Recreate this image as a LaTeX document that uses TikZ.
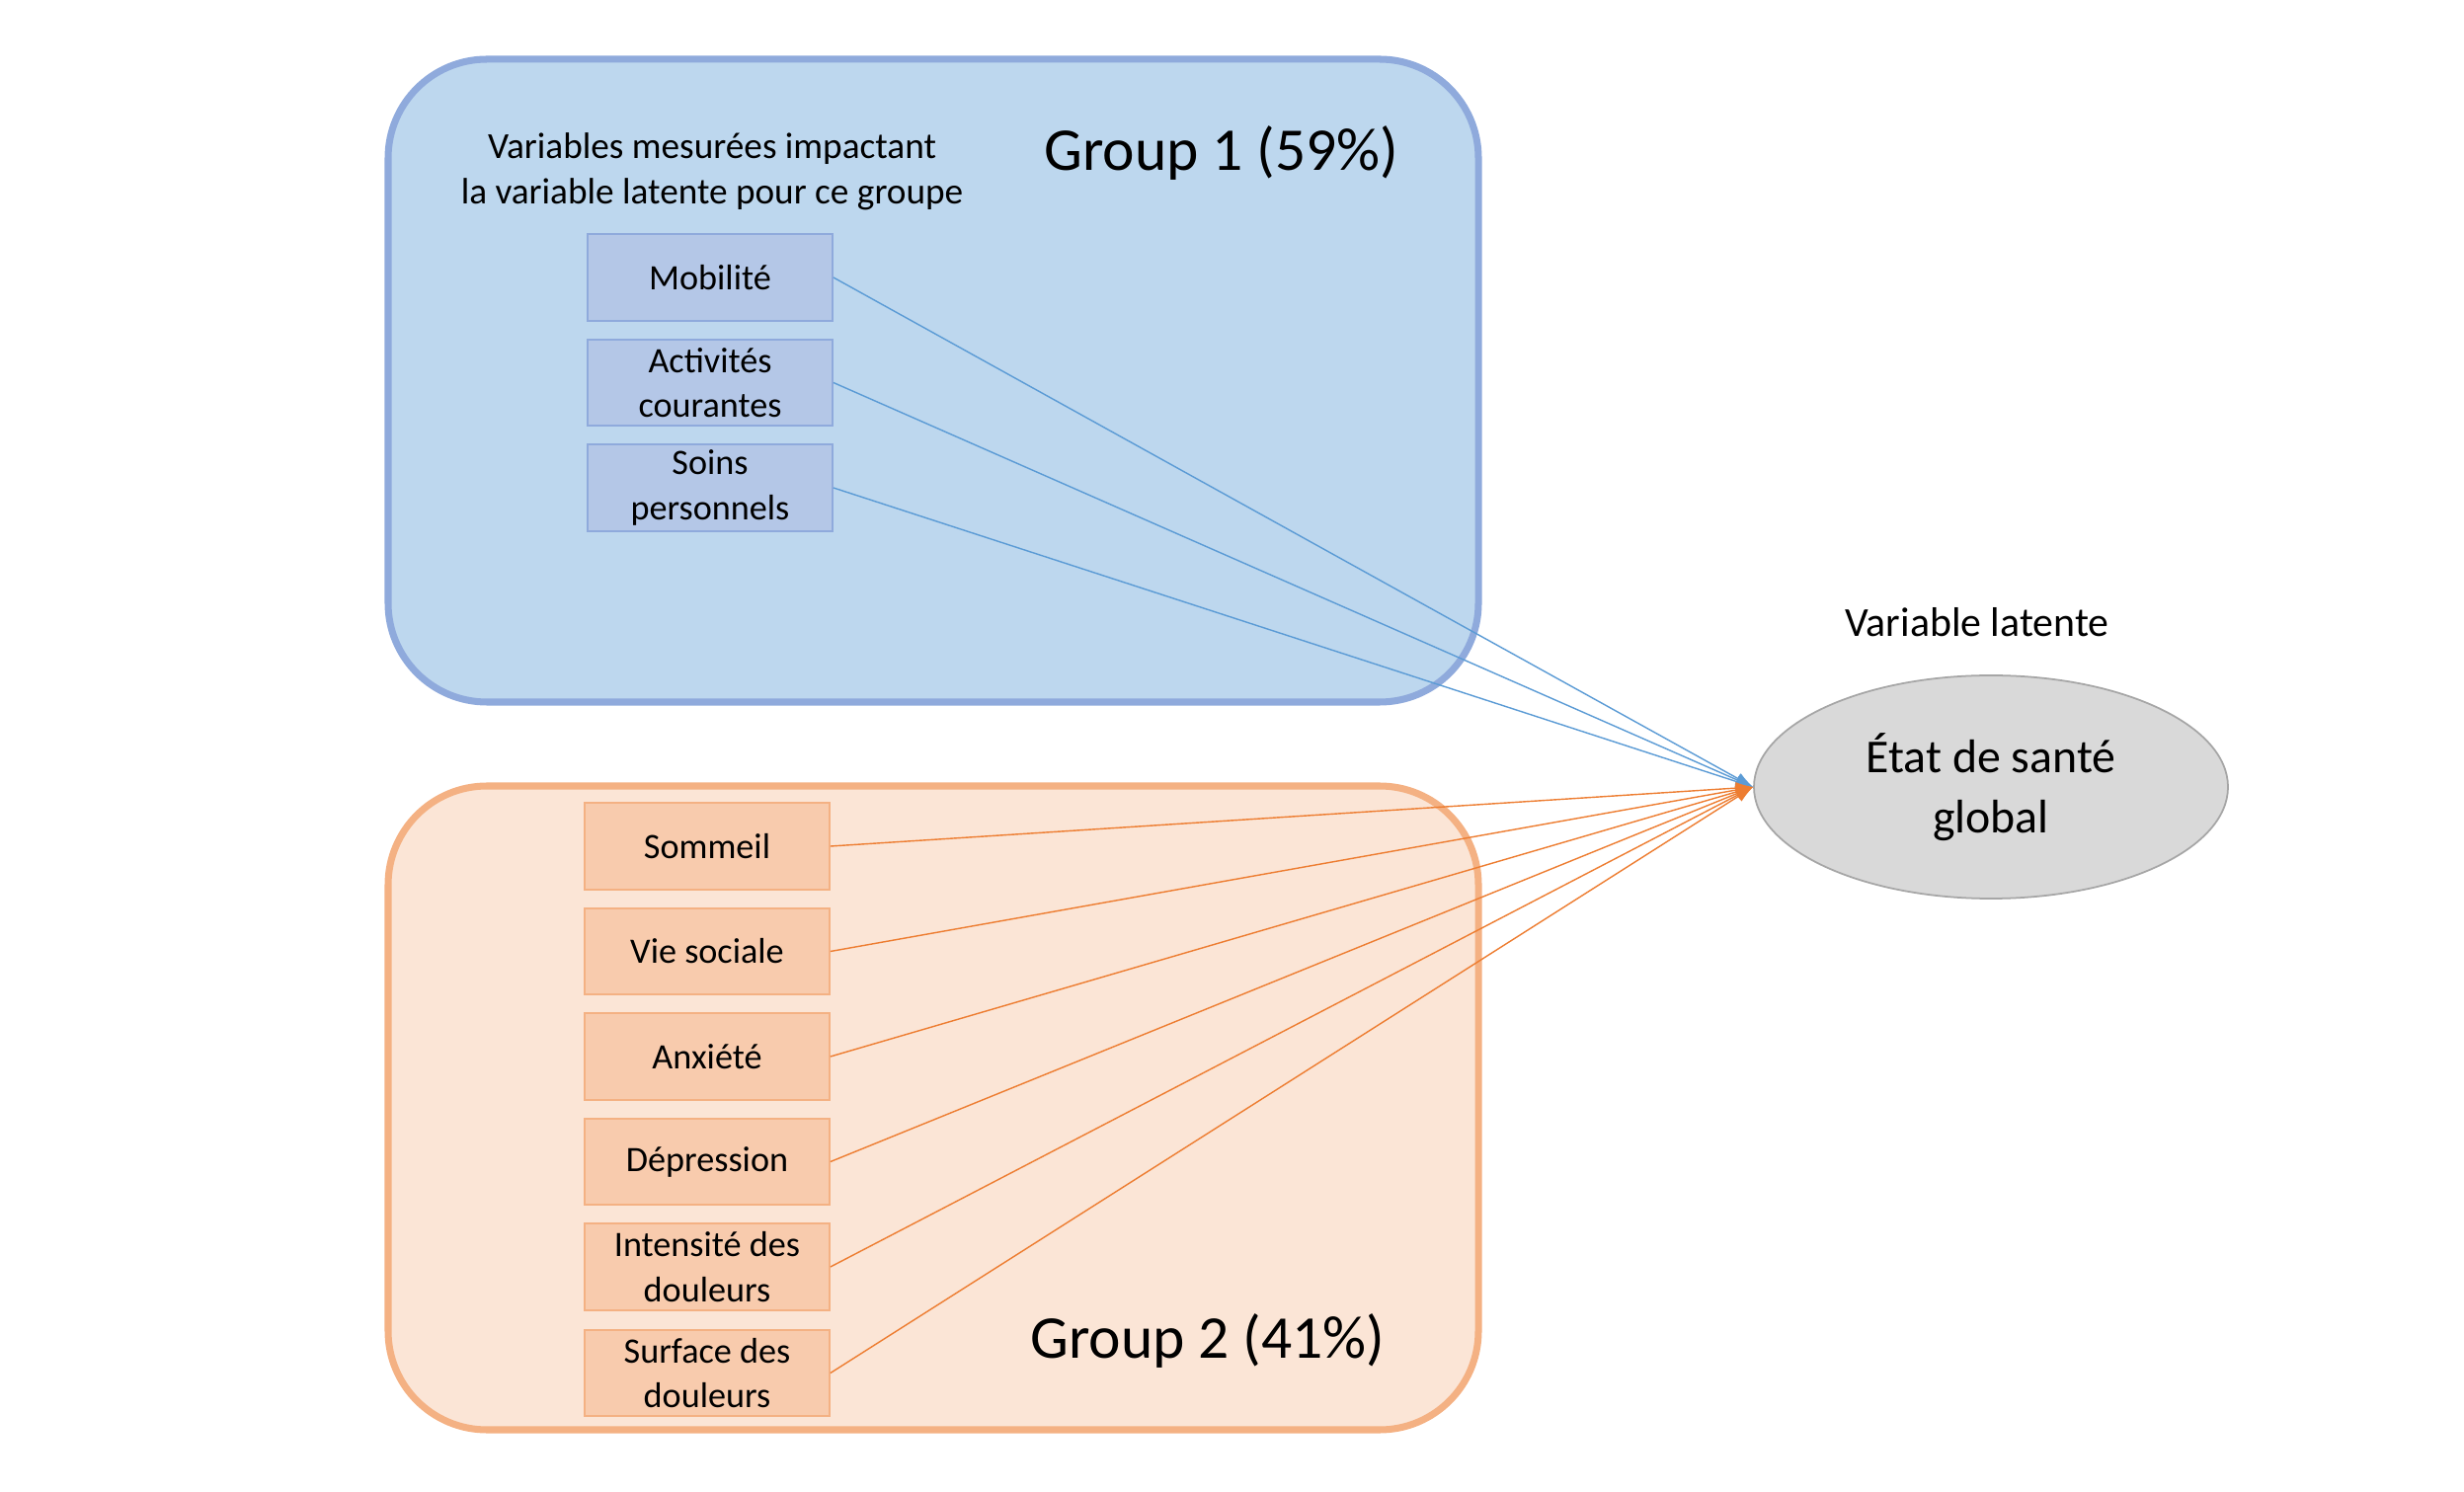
\documentclass[tikz,border=0pt]{standalone}
\usepackage{fontspec}
\setmainfont{Carlito}
\usetikzlibrary{arrows.meta,shapes.geometric}
\definecolor{gOneFill}{HTML}{BDD7EE}
\definecolor{gOneLine}{HTML}{8FAADC}
\definecolor{gOneBox}{HTML}{B4C7E7}
\definecolor{gTwoFill}{HTML}{FBE5D6}
\definecolor{gTwoLine}{HTML}{F4B183}
\definecolor{gTwoBox}{HTML}{F8CBAD}
\definecolor{blueArrow}{HTML}{5B9BD5}
\definecolor{orangeArrow}{HTML}{ED7D31}
\definecolor{ellFill}{HTML}{D9D9D9}
\definecolor{ellLine}{HTML}{A6A6A6}
\tikzset{
  groupbox/.style={line width=2pt, rounded corners=1cm},
  varbox/.style={rectangle, minimum width=2.48cm, minimum height=0.875cm, inner sep=0pt,
    font=\fontsize{10.3pt}{12.9pt}\selectfont, align=center, line width=0.5pt},
  bluebox/.style={varbox, fill=gOneBox, draw=gOneLine},
  orangebox/.style={varbox, fill=gTwoBox, draw=gTwoLine},
  bluearrow/.style={draw=blueArrow, line width=0.4pt, -{Latex[length=5pt,width=3.5pt]}},
  orangearrow/.style={draw=orangeArrow, line width=0.4pt, -{Latex[length=5pt,width=3.5pt]}},
  grouplabel/.style={font=\fontsize{17.5pt}{20pt}\selectfont, inner sep=0pt},
  smalltext/.style={font=\fontsize{10.6pt}{13.1pt}\selectfont, align=center, inner sep=0pt}
}
\begin{document}
\begin{tikzpicture}
\useasboundingbox (0,0) rectangle (24.95,-15.11);
% group frames
\draw[groupbox, fill=gOneFill, draw=gOneLine] (3.93,-0.60) rectangle (14.97,-7.11);
\draw[groupbox, fill=gTwoFill, draw=gTwoLine] (3.93,-7.96) rectangle (14.97,-14.48);
% titles
\node[grouplabel] (g1) at (12.37,-1.55) {Group 1 (59\%)};
\node[grouplabel] (g2) at (12.23,-13.58) {Group 2 (41\%)};
\node[smalltext] (head) at (7.21,-1.74) {Variables mesurées impactant\\la variable latente pour ce groupe};
% latent variable
\node[smalltext, font=\fontsize{11.9pt}{14pt}\selectfont] (lvlabel) at (20.02,-6.30) {Variable latente};
\node[ellipse, minimum width=4.80cm, minimum height=2.26cm, inner sep=0pt, fill=ellFill, draw=ellLine, line width=0.5pt,
  font=\fontsize{13.6pt}{17.2pt}\selectfont, align=center] (ell) at (20.16,-7.97) {État de santé\\global};
% group 1 boxes
\node[bluebox] (mob) at (7.19,-2.81) {Mobilité};
\node[bluebox] (act) at (7.19,-3.875) {Activités\\courantes};
\node[bluebox] (soi) at (7.19,-4.94) {Soins\\personnels};
% group 2 boxes
\node[orangebox] (som) at (7.16,-8.57) {Sommeil};
\node[orangebox] (vie) at (7.16,-9.635) {Vie sociale};
\node[orangebox] (anx) at (7.16,-10.70) {Anxiété};
\node[orangebox] (dep) at (7.16,-11.765) {Dépression};
\node[orangebox] (int) at (7.16,-12.83) {Intensité des\\douleurs};
\node[orangebox] (sur) at (7.16,-13.905) {Surface des\\douleurs};
% connectors
\foreach \n in {mob,act,soi} \draw[bluearrow] (\n.east) -- (ell.west);
\foreach \n in {som,vie,anx,dep,int,sur} \draw[orangearrow] (\n.east) -- (ell.west);
\end{tikzpicture}
\end{document}
